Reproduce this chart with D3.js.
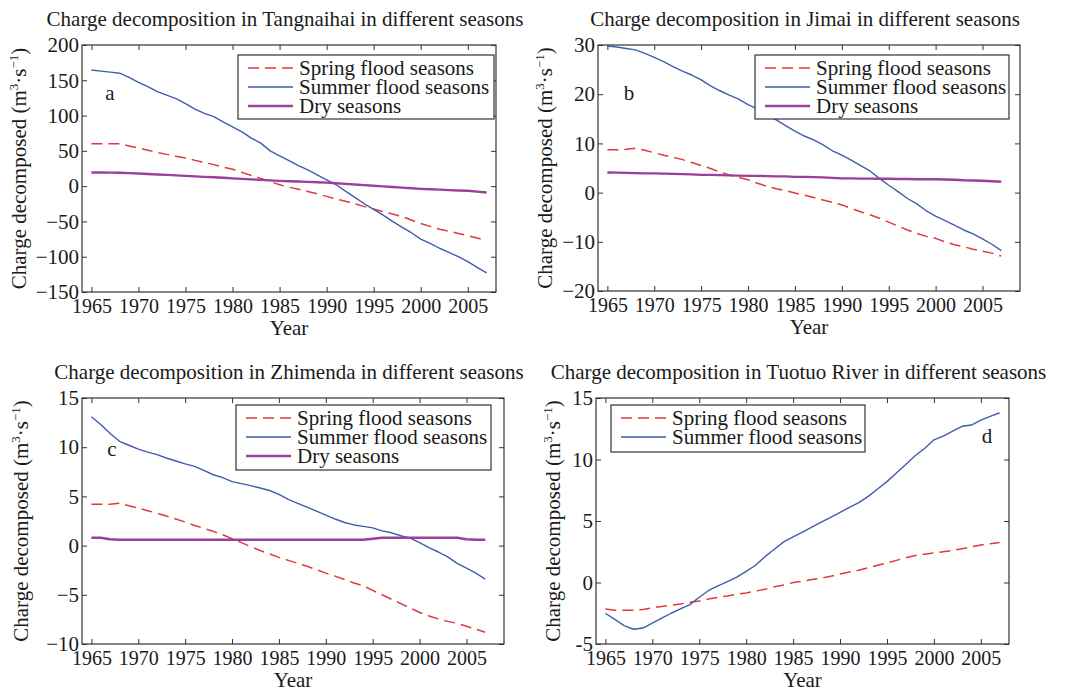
<!DOCTYPE html>
<html>
<head>
<meta charset="utf-8">
<script src="https://cdn.jsdelivr.net/npm/d3@7"></script>
<style>
  body { margin: 0; background: #fff; }
  svg { display: block; }
  text { font-family: "Liberation Serif", "Times New Roman", serif; fill: #1a1a1a; }
</style>
</head>
<body>
<svg id="chart" width="1065" height="692"></svg>
<script>
// years shared by every panel
var years = [1965, 1966, 1967, 1968, 1969, 1970, 1971, 1972, 1973, 1974,
  1975, 1976, 1977, 1978, 1979, 1980, 1981, 1982, 1983, 1984,
  1985, 1986, 1987, 1988, 1989, 1990, 1991, 1992, 1993, 1994,
  1995, 1996, 1997, 1998, 1999, 2000, 2001, 2002, 2003, 2004,
  2005, 2006, 2007];
var xTicks = [1965, 1970, 1975, 1980, 1985, 1990, 1995, 2000, 2005];
var seriesNames = ["Spring flood seasons", "Summer flood seasons", "Dry seasons"];

// a - Tangnaihai
var springA = [60, 60, 60, 60, 57, 54, 51, 47.5, 45, 42.5, 40, 36.5, 33.5, 30.5, 27, 24, 19.5, 15, 11, 6.5,
  2, -1.5, -4.5, -7.5, -11, -14.5, -18, -21.5, -25, -29, -32.5, -36, -39.5, -43, -48, -53, -57, -61, -64, -67,
  -70, -73.5, -77];
var summerA = [164.6, 163, 161.5, 160, 154, 147, 141, 134, 129, 124, 117, 109, 103, 98.5, 91, 84, 77, 68, 61, 50,
  43, 36, 29, 23, 16, 9, 2, -7, -16, -25, -33, -41, -50, -58, -66, -75, -81, -88, -94, -100,
  -107, -115, -123];
var dryA = [19.3, 19.3, 19.2, 19, 18.5, 18, 17.3, 16.6, 16, 15.3, 14.6, 13.9, 13.2, 12.5, 11.8, 11, 10.3, 9.6, 8.9, 8.2,
  7.5, 7, 6.5, 6, 5.5, 5, 4.1, 3.2, 2.3, 1.4, 0.5, -0.4, -1.2, -2.1, -3, -3.8, -4.4, -5, -5.6, -6.1,
  -6.6, -7.8, -9];
var yTicksA = [-150, -100, -50, 0, 50, 100, 150, 200];

// b - Jimai
var springB = [8.7, 8.7, 8.8, 9, 8.6, 8.1, 7.6, 7.2, 6.7, 6.1, 5.5, 4.9, 4.2, 3.6, 3.1, 2.6, 1.9, 1.3, 0.8, 0.4,
  -0.1, -0.5, -1, -1.5, -2, -2.5, -3.2, -3.9, -4.5, -5.2, -6, -6.8, -7.6, -8.3, -8.9, -9.3, -10, -10.6, -11, -11.5,
  -11.9, -12.3, -12.9];
var summerB = [29.8, 29.6, 29.3, 29, 28.3, 27.5, 26.6, 25.6, 24.7, 23.9, 22.9, 21.7, 20.7, 19.8, 19, 17.9, 17, 15.8, 14.8, 13.6,
  12.5, 11.5, 10.7, 9.7, 8.5, 7.6, 6.6, 5.5, 4.4, 2.9, 1.5, 0.2, -1.2, -2.3, -3.7, -4.8, -5.7, -6.6, -7.6, -8.4,
  -9.4, -10.5, -11.8];
var dryB = [4.1, 4.05, 4, 3.95, 3.9, 3.9, 3.85, 3.8, 3.75, 3.7, 3.6, 3.6, 3.55, 3.5, 3.45, 3.4, 3.4, 3.35, 3.3, 3.3,
  3.2, 3.2, 3.15, 3.1, 3, 2.9, 2.9, 2.85, 2.85, 2.8, 2.8, 2.75, 2.75, 2.7, 2.7, 2.7, 2.65, 2.6, 2.5, 2.45,
  2.4, 2.3, 2.2];
var yTicksB = [-20, -10, 0, 10, 20, 30];

// c - Zhimenda
var springC = [4.2, 4.2, 4.2, 4.3, 4.05, 3.8, 3.55, 3.3, 3, 2.7, 2.4, 2.05, 1.75, 1.45, 1.1, 0.7, 0.3, -0.1, -0.5, -0.85,
  -1.2, -1.5, -1.8, -2.1, -2.45, -2.8, -3.1, -3.45, -3.8, -4.1, -4.55, -5, -5.45, -5.9, -6.35, -6.8, -7.15, -7.45, -7.7, -7.9,
  -8.2, -8.5, -8.8];
var summerC = [13.1, 12.3, 11.4, 10.6, 10.2, 9.8, 9.5, 9.25, 8.9, 8.6, 8.3, 8.05, 7.65, 7.2, 6.9, 6.5, 6.3, 6.1, 5.85, 5.6,
  5.2, 4.7, 4.3, 3.9, 3.5, 3.1, 2.7, 2.35, 2.1, 1.95, 1.8, 1.5, 1.3, 1, 0.75, 0.3, -0.2, -0.65, -1.15, -1.8,
  -2.3, -2.8, -3.4];
var dryC = [0.8, 0.8, 0.65, 0.6, 0.6, 0.6, 0.6, 0.6, 0.6, 0.6, 0.6, 0.6, 0.6, 0.6, 0.6, 0.6, 0.6, 0.6, 0.6, 0.6,
  0.6, 0.6, 0.6, 0.6, 0.6, 0.6, 0.6, 0.6, 0.6, 0.6, 0.7, 0.8, 0.8, 0.8, 0.8, 0.8, 0.8, 0.8, 0.8, 0.8,
  0.65, 0.6, 0.6];
var yTicksC = [-10, -5, 0, 5, 10, 15];

// d - Tuotuo River (no dry season series)
var springD = [-2.15, -2.25, -2.25, -2.25, -2.2, -2.05, -1.95, -1.85, -1.75, -1.6, -1.5, -1.35, -1.2, -1.1, -0.95, -0.85, -0.7, -0.55, -0.35, -0.2,
  0, 0.1, 0.25, 0.35, 0.5, 0.7, 0.85, 1, 1.2, 1.4, 1.6, 1.8, 2, 2.2, 2.3, 2.4, 2.5, 2.6, 2.75, 2.9,
  3.05, 3.15, 3.25];
var summerD = [-2.5, -3, -3.5, -3.8, -3.7, -3.3, -2.9, -2.5, -2.15, -1.8, -1.2, -0.65, -0.27, 0.08, 0.43, 0.9, 1.4, 2.1, 2.7, 3.3,
  3.7, 4.1, 4.5, 4.9, 5.3, 5.7, 6.1, 6.5, 7, 7.6, 8.2, 8.9, 9.6, 10.3, 10.9, 11.6, 11.9, 12.3, 12.7, 12.8,
  13.2, 13.5, 13.8];
var yTicksD = [-5, 0, 5, 10, 15];

var styles = [
  {color: "#e0393e", width: 1.5, dash: "11,6"},
  {color: "#3e5eab", width: 1.4, dash: null},
  {color: "#9a3f9c", width: 2.4, dash: null}
];
var serif = "Liberation Serif, Times New Roman, serif";

var svg = d3.select("#chart");

function drawPanel(p) {
  var g = svg.append("g");
  var x = d3.scaleLinear().domain(p.xDomain).range([p.left, p.right]);
  var y = d3.scaleLinear().domain(p.yDomain).range([p.bottom, p.top]);
  var fmt = p.hyphen ? function(d){ return String(d); } : d3.format("");

  // tick marks point inward, mirrored on top and right like matlab
  var bottomAxis = g.append("g").attr("transform", "translate(0," + p.bottom + ")")
    .call(d3.axisBottom(x).tickValues(xTicks).tickFormat(d3.format("d")).tickSizeInner(-5).tickSizeOuter(0).tickPadding(7));
  var topAxis = g.append("g").attr("transform", "translate(0," + p.top + ")")
    .call(d3.axisTop(x).tickValues(xTicks).tickFormat("").tickSizeInner(-5).tickSizeOuter(0));
  var leftAxis = g.append("g").attr("transform", "translate(" + p.left + ",0)")
    .call(d3.axisLeft(y).tickValues(p.yTicks).tickFormat(fmt).tickSizeInner(-5).tickSizeOuter(0).tickPadding(3));
  var rightAxis = g.append("g").attr("transform", "translate(" + p.right + ",0)")
    .call(d3.axisRight(y).tickValues(p.yTicks).tickFormat("").tickSizeInner(-5).tickSizeOuter(0));

  [bottomAxis, topAxis, leftAxis, rightAxis].forEach(function(a){
    a.select(".domain").remove();
    a.attr("font-family", serif).attr("font-size", 20);
    a.selectAll(".tick line").attr("stroke", "#333");
    a.selectAll(".tick text").attr("fill", "#1a1a1a");
  });
  leftAxis.attr("font-size", 21);

  var line = d3.line().x(function(d,i){ return x(years[i]); }).y(function(d){ return y(d); });

  p.series.forEach(function(s, i){
    var st = styles[i];
    g.append("path").datum(s)
      .attr("d", line)
      .attr("fill", "none")
      .attr("stroke", st.color)
      .attr("stroke-width", st.width)
      .attr("stroke-dasharray", st.dash)
      .attr("stroke-linejoin", "round");
  });

  g.append("rect")
    .attr("x", p.left).attr("y", p.top)
    .attr("width", p.right - p.left).attr("height", p.bottom - p.top)
    .attr("fill", "none").attr("stroke", "#333").attr("stroke-width", 1.2);

  // title, axis labels, panel letter
  g.append("text").attr("x", (p.left + p.right)/2 - 4).attr("y", p.top - 19)
    .attr("text-anchor", "middle").attr("font-size", 21).text(p.title);
  g.append("text").attr("x", (p.left + p.right)/2).attr("y", p.bottom + 43)
    .attr("text-anchor", "middle").attr("font-size", 21).text("Year");

  var yl = g.append("text")
    .attr("transform", "translate(" + p.ylabelX + "," + (p.top + p.bottom)/2 + ") rotate(-90)")
    .attr("text-anchor", "middle").attr("font-size", 21);
  yl.append("tspan").text("Charge decomposed (m");
  yl.append("tspan").attr("dy", -8).attr("font-size", 13).text("3");
  yl.append("tspan").attr("dy", 8).text("·s");
  yl.append("tspan").attr("dy", -8).attr("font-size", 13).text("−1");
  yl.append("tspan").attr("dy", 8).text(")");

  g.append("text").attr("x", p.letter[0]).attr("y", p.letter[1]).attr("dy", "0.35em")
    .attr("text-anchor", "middle").attr("font-size", 21).text(p.letterText);

  // legend
  var lg = p.legend;
  g.append("rect").attr("x", lg.x).attr("y", lg.y).attr("width", lg.w).attr("height", lg.h)
    .attr("fill", "#fff").attr("stroke", "#333").attr("stroke-width", 1.2);
  p.series.forEach(function(s, i){
    var st = styles[i];
    var ry = lg.y + 13 + i*19;
    g.append("line").attr("x1", lg.x + 10).attr("x2", lg.x + 55).attr("y1", ry).attr("y2", ry)
      .attr("stroke", st.color).attr("stroke-width", st.width).attr("stroke-dasharray", st.dash);
    g.append("text").attr("x", lg.x + 61).attr("y", ry).attr("dy", "0.33em")
      .attr("font-size", 21).text(seriesNames[i]);
  });
}

drawPanel({
  title: "Charge decomposition in Tangnaihai in different seasons",
  left: 82, right: 496, top: 45, bottom: 292,
  xDomain: [1964, 2008], yDomain: [-150, 200], yTicks: yTicksA,
  series: [springA, summerA, dryA], ylabelX: 26,
  letter: [110, 93], letterText: "a",
  legend: {x: 238, y: 55, w: 256, h: 64}
});
drawPanel({
  title: "Charge decomposition in Jimai in different seasons",
  left: 598, right: 1020, top: 45, bottom: 291,
  xDomain: [1964, 2009], yDomain: [-20, 30], yTicks: yTicksB,
  series: [springB, summerB, dryB], ylabelX: 552,
  letter: [629, 93], letterText: "b",
  legend: {x: 755, y: 55, w: 254, h: 64}
});
drawPanel({
  title: "Charge decomposition in Zhimenda in different seasons",
  left: 82, right: 504, top: 398, bottom: 644,
  xDomain: [1964, 2009], yDomain: [-10, 15], yTicks: yTicksC,
  series: [springC, summerC, dryC], ylabelX: 28,
  letter: [112, 449], letterText: "c",
  legend: {x: 236, y: 405, w: 255, h: 65}
});
drawPanel({
  title: "Charge decomposition in Tuotuo River in different seasons",
  left: 596, right: 1009, top: 398, bottom: 644,
  xDomain: [1964, 2008], yDomain: [-5, 15], yTicks: yTicksD, hyphen: true,
  series: [springD, summerD], ylabelX: 560,
  letter: [987, 436], letterText: "d",
  legend: {x: 611, y: 405, w: 254, h: 47}
});
</script>
</body>
</html>
